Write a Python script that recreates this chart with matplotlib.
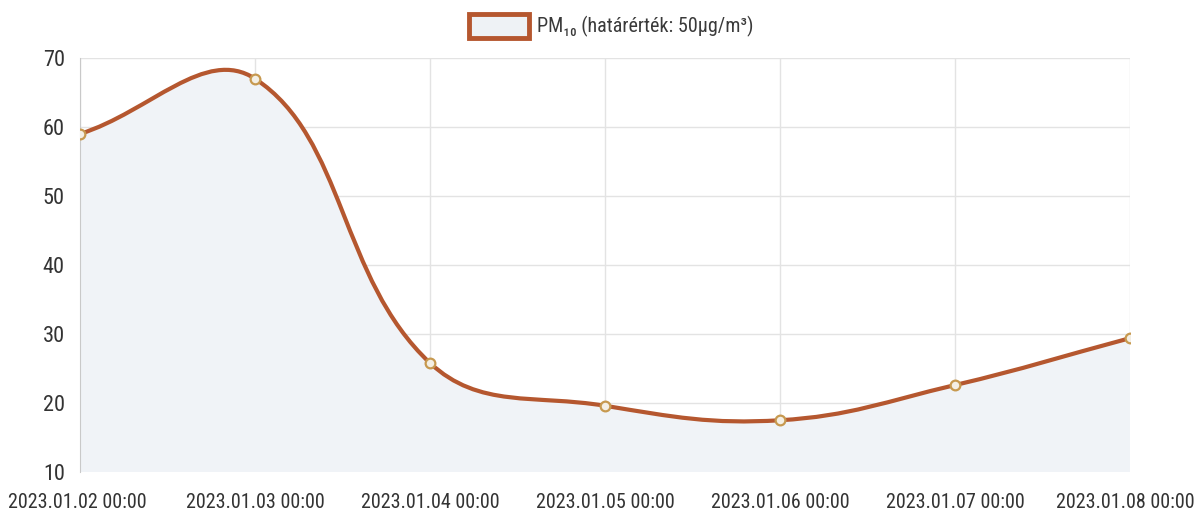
import numpy as np
from matplotlib import pyplot as plt
from matplotlib.path import Path
from matplotlib.patches import PathPatch, Rectangle
from matplotlib.transforms import ScaledTranslation

# Data
labels = ['2023.01.02 00:00', '2023.01.03 00:00', '2023.01.04 00:00', '2023.01.05 00:00',
          '2023.01.06 00:00', '2023.01.07 00:00', '2023.01.08 00:00']
pm10 = [59, 67, 25.8, 19.6, 17.5, 22.6, 29.4]
series_name = 'PM\u2081\u2080 (határérték: 50µg/m³)'

LINE = '#b5572f'
FILL = '#f0f3f7'
GRID = '#e3e3e3'
FONT = ['Roboto Condensed', 'Liberation Sans', 'DejaVu Sans']

fig = plt.figure(figsize=(11.98, 5.19), dpi=100)
ax = fig.add_axes([80 / 1198, 47 / 519, 1050 / 1198, 414 / 519])
x = np.arange(len(pm10))
ax.set_xlim(0, len(pm10) - 1)
ax.set_ylim(10, 70)

# Chart.js style bezier (tension 0.4) computed in pixel space
fig.canvas.draw()
pts = ax.transData.transform(np.column_stack([x, pm10]))
t = 0.4
cps = []
for i in range(len(pts)):
    prev = pts[max(i - 1, 0)]
    cur = pts[i]
    nxt = pts[min(i + 1, len(pts) - 1)]
    d01 = np.hypot(*(cur - prev))
    d12 = np.hypot(*(nxt - cur))
    tot = d01 + d12
    fa = t * d01 / tot if tot else 0
    fb = t * d12 / tot if tot else 0
    cps.append((cur - fa * (nxt - prev), cur + fb * (nxt - prev)))
verts = [pts[0]]
codes = [Path.MOVETO]
for i in range(1, len(pts)):
    verts += [cps[i - 1][1], cps[i][0], pts[i]]
    codes += [Path.CURVE4] * 3
inv = ax.transData.inverted()
dverts = inv.transform(np.array(verts))

# fill below curve
fverts = list(dverts) + [(x[-1], 10), (x[0], 10), dverts[0]]
fcodes = codes + [Path.LINETO, Path.LINETO, Path.CLOSEPOLY]
ax.add_patch(PathPatch(Path(fverts, fcodes), facecolor=FILL, edgecolor='none', zorder=1))
ax.add_patch(PathPatch(Path(dverts, codes), facecolor='none', edgecolor=LINE, lw=3.0,
                       capstyle='round', zorder=3))
ax.plot(x, pm10, 'o', ms=7, mfc='#f4efe4', mec='#c7994f', mew=1.6, zorder=4)

ax.set_xticks(x)
ax.set_xticklabels(labels)
ax.set_yticks(range(10, 71, 10))
ax.grid(True, color=GRID, lw=1, zorder=0)
ax.set_axisbelow(True)
for s in ['top', 'right', 'bottom']:
    ax.spines[s].set_visible(False)
ax.spines['left'].set_color('#c9c9c9')
ax.tick_params(length=0, colors='#333333')
ax.tick_params(axis='x', pad=15, labelsize=14.5)
ax.tick_params(axis='y', pad=11, labelsize=16)
for lab in ax.get_xticklabels() + ax.get_yticklabels():
    lab.set_family(FONT)

# nudge the outer labels inward like the original
xl = ax.get_xticklabels()
xl[0].set_transform(xl[0].get_transform() + ScaledTranslation(-3 / 100, 0, fig.dpi_scale_trans))
xl[-1].set_transform(xl[-1].get_transform() + ScaledTranslation(-5 / 100, 0, fig.dpi_scale_trans))

# legend at top
fig.patches.append(Rectangle((469 / 1198, 1 - 38 / 519), 60 / 1198, 24 / 519,
                             transform=fig.transFigure, facecolor='#eef2f5',
                             edgecolor=LINE, lw=3.5, figure=fig))
fig.text(537 / 1198, 1 - 26 / 519, series_name, ha='left', va='center',
         fontsize=14.5, color='#3a3a3a', family=FONT)

fig.savefig('out.png', dpi=100)
